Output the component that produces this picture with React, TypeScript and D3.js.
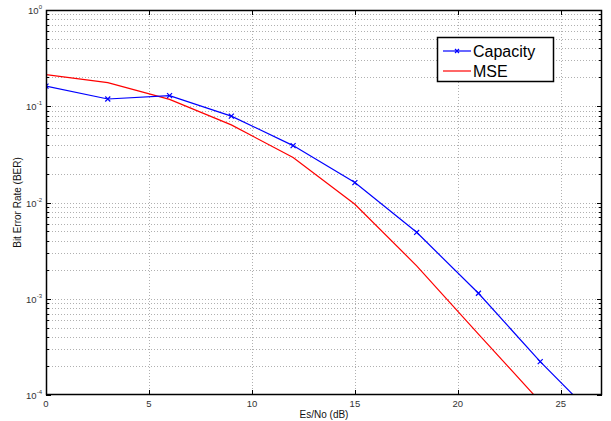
import React from 'react';
import * as d3 from 'd3';

// Es/No sample points (dB)
const snr = [0, 3, 6, 9, 12, 15, 18, 21, 24, 27];
// BER values
const capacityBer = [0.162, 0.119, 0.129, 0.079, 0.039, 0.0161, 0.0049, 0.00114, 0.000222, 0.00005];
const mseBer = [0.213, 0.176, 0.118, 0.064, 0.0294, 0.0096, 0.0022, 0.00043, 0.000085, 0.000017];
const xTicks = [0, 5, 10, 15, 20, 25];
const yExponents = [0, -1, -2, -3, -4];

const W = 611;
const H = 421;
const margin = { left: 46, right: 9, top: 10, bottom: 26 };

const App = () => {
  const x = d3.scaleLinear().domain([0, 27]).range([margin.left, W - margin.right]);
  const y = d3.scaleLog().domain([1e-4, 1]).range([H - margin.bottom, margin.top]);

  const line = d3.line<[number, number]>()
    .x(d => x(d[0]))
    .y(d => y(d[1]));

  const capPts = snr.map((s, i) => [s, capacityBer[i]] as [number, number]);
  const msePts = snr.map((s, i) => [s, mseBer[i]] as [number, number]);

  // minor log ticks (2..9 in each decade)
  const minor: number[] = [];
  for (let e = -4; e < 0; e++) {
    for (let m = 2; m <= 9; m++) minor.push(m * Math.pow(10, e));
  }
  const x0 = margin.left;
  const x1 = W - margin.right;
  const y0 = margin.top;
  const y1 = H - margin.bottom;
  const font = 'Liberation Sans, Arial, Helvetica, sans-serif';
  const mk = 2.5;

  return (
    <svg width={W} height={H} style={{ position: 'absolute', left: 0, top: 0 }}>
      <rect width={W} height={H} fill="#fff" />
      <defs>
        <clipPath id="plot">
          <rect x={x0} y={y0} width={x1 - x0} height={y1 - y0} />
        </clipPath>
      </defs>
      {/* grid */}
      <g stroke="#b0b0b0" strokeWidth={1} strokeDasharray="1,2" fill="none">
        {xTicks.filter(t => t > 0).map(t => (
          <line key={'gx' + t} x1={Math.round(x(t)) + 0.5} x2={Math.round(x(t)) + 0.5} y1={y0} y2={y1} />
        ))}
        {minor.concat(yExponents.slice(1, 4).map(e => Math.pow(10, e))).map(v => (
          <line key={'gy' + v} x1={x0} x2={x1} y1={Math.round(y(v)) + 0.5} y2={Math.round(y(v)) + 0.5} />
        ))}
      </g>
      {/* ticks */}
      <g stroke="#000" strokeWidth={1}>
        {minor.map(v => (
          <g key={'ty' + v}>
            <line x1={x0} x2={x0 + 3} y1={Math.round(y(v)) + 0.5} y2={Math.round(y(v)) + 0.5} />
            <line x1={x1} x2={x1 - 3} y1={Math.round(y(v)) + 0.5} y2={Math.round(y(v)) + 0.5} />
          </g>
        ))}
        {yExponents.map(e => (
          <g key={'tY' + e}>
            <line x1={x0} x2={x0 + 5} y1={Math.round(y(Math.pow(10, e))) + 0.5} y2={Math.round(y(Math.pow(10, e))) + 0.5} />
            <line x1={x1} x2={x1 - 5} y1={Math.round(y(Math.pow(10, e))) + 0.5} y2={Math.round(y(Math.pow(10, e))) + 0.5} />
          </g>
        ))}
        {xTicks.map(t => (
          <g key={'tx' + t}>
            <line x1={Math.round(x(t)) + 0.5} x2={Math.round(x(t)) + 0.5} y1={y1} y2={y1 - 5} />
            <line x1={Math.round(x(t)) + 0.5} x2={Math.round(x(t)) + 0.5} y1={y0} y2={y0 + 5} />
          </g>
        ))}
      </g>
      {/* data */}
      <g clipPath="url(#plot)" fill="none">
        <path d={line(msePts) || ''} stroke="#ff0000" strokeWidth={1.2} />
        <path d={line(capPts) || ''} stroke="#0000ff" strokeWidth={1.2} />
        {capPts.map(([s, v]) => (
          <path key={'m' + s}
            d={`M${x(s) - mk},${y(v) - mk}L${x(s) + mk},${y(v) + mk}M${x(s) - mk},${y(v) + mk}L${x(s) + mk},${y(v) - mk}`}
            stroke="#0000ff" strokeWidth={1.2} />
        ))}
      </g>
      {/* frame */}
      <rect x={x0 + 0.5} y={y0 + 0.5} width={x1 - x0 - 1} height={y1 - y0 - 1} fill="none" stroke="#000" strokeWidth={1.5} />
      {/* tick labels */}
      <g fontFamily={font} fill="#333" fontSize={9.5}>
        {xTicks.map(t => (
          <text key={'lx' + t} x={x(t)} y={y1 + 12} textAnchor="middle">{t}</text>
        ))}
        {yExponents.map(e => (
          <text key={'ly' + e} x={x0 - 4} y={y(Math.pow(10, e)) + 4} textAnchor="end">
            10<tspan fontSize={6} dy={-5}>{e}</tspan>
          </text>
        ))}
      </g>
      {/* axis labels */}
      <text x={(x0 + x1) / 2} y={H - 3} textAnchor="middle" fontFamily={font} fontSize={10} fill="#111">Es/No (dB)</text>
      <text transform={`translate(21,${(y0 + y1) / 2}) rotate(-90)`} textAnchor="middle" fontFamily={font} fontSize={10} fill="#111">Bit Error Rate (BER)</text>
      {/* legend */}
      <g>
        <rect x={437.5} y={37.5} width={116} height={44} fill="#fff" stroke="#000" strokeWidth={1.5} />
        <line x1={443} x2={471} y1={51} y2={51} stroke="#0000ff" strokeWidth={1.2} />
        <path d="M455,49L459,53M455,53L459,49" stroke="#0000ff" strokeWidth={1.2} />
        <line x1={443} x2={471} y1={71} y2={71} stroke="#ff0000" strokeWidth={1.2} />
        <text x={473} y={57} fontFamily={font} fontSize={16} fill="#000">Capacity</text>
        <text x={473} y={77} fontFamily={font} fontSize={16} fill="#000">MSE</text>
      </g>
    </svg>
  );
};

export default App;
